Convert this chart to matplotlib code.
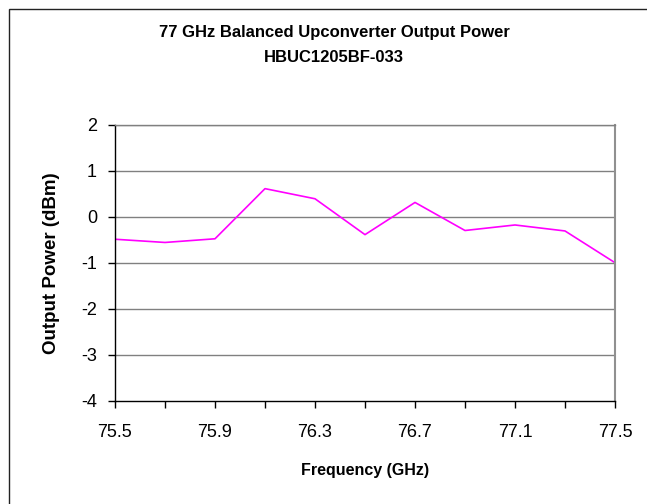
import matplotlib
matplotlib.use("Agg")
import matplotlib.pyplot as plt
from matplotlib.patches import Rectangle

freq = [75.5, 75.7, 75.9, 76.1, 76.3, 76.5, 76.7, 76.9, 77.1, 77.3, 77.5]
power = [-0.49, -0.56, -0.48, 0.61, 0.39, -0.39, 0.31, -0.30, -0.18, -0.31, -1.0]
xtick_labels = ["75.5", "75.9", "76.3", "76.7", "77.1", "77.5"]

plt.rcParams["font.family"] = ["Liberation Sans", "DejaVu Sans"]
plt.rcParams["axes.unicode_minus"] = False

W, H = 647, 504
fig = plt.figure(figsize=(W / 100, H / 100), dpi=100)

# chart area border (runs off the right and bottom edges)
fig.patches.append(Rectangle((9 / W, -0.1), 1.2, 1 - 9 / H + 0.1,
                             transform=fig.transFigure, fill=False,
                             edgecolor="#222222", linewidth=1.0))

ax = fig.add_axes([115 / W, 1 - 400.7 / H, 500 / W, 276 / H])

ax.plot(freq, power, color="#ff00ff", linewidth=1.2)

ax.set_xlim(75.5, 77.5)
ax.set_ylim(-4, 2)
ax.set_yticks(range(-4, 3))
ax.set_xticks(freq)
ax.set_xticklabels([s if s in xtick_labels else "" for s in [f"{v:.1f}" for v in freq]])

for y in range(-3, 3):
    ax.axhline(y, color="#808080", linewidth=1.0, zorder=0)

ax.spines["left"].set_color("black")
ax.spines["bottom"].set_color("black")
ax.spines["top"].set_color("#808080")
ax.spines["right"].set_color("#909090")
for s in ax.spines.values():
    s.set_linewidth(1.0)
ax.spines["right"].set_linewidth(1.5)

ax.tick_params(axis="both", direction="out", length=5, width=1.0,
               labelsize=13, color="black")
ax.tick_params(axis="x", pad=12)
ax.tick_params(axis="y", pad=8)

fig.text(334 / W, 1 - 33 / H, "77 GHz Balanced Upconverter Output Power",
         ha="center", va="center", fontsize=12, fontweight="bold")
fig.text(334 / W, 1 - 58 / H, "HBUC1205BF-033",
         ha="center", va="center", fontsize=12, fontweight="bold")
fig.text(365 / W, 1 - 470 / H, "Frequency (GHz)",
         ha="center", va="center", fontsize=11.5, fontweight="bold")
fig.text(52 / W, 1 - 262.7 / H, "Output Power (dBm)", rotation=90,
         ha="center", va="center", fontsize=13.5, fontweight="bold")

fig.savefig("out.png", dpi=100)
